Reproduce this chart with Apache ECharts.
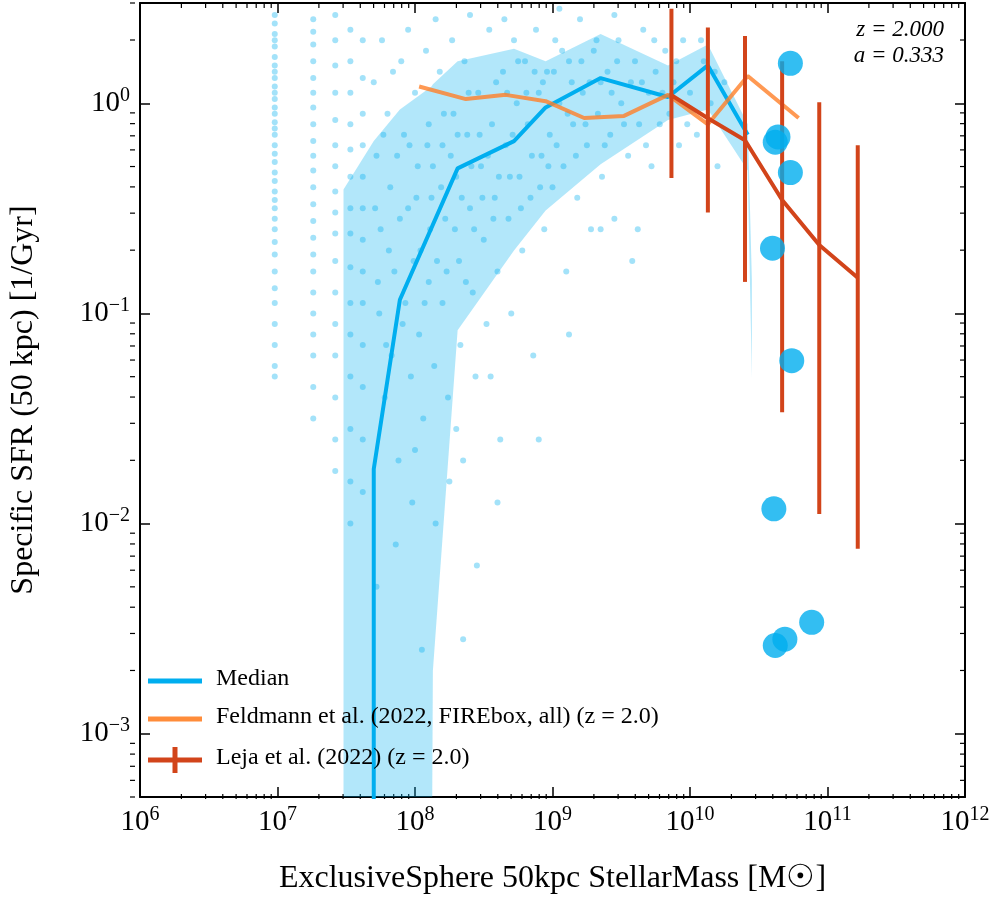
<!DOCTYPE html>
<html><head><meta charset="utf-8">
<script src="https://cdn.jsdelivr.net/npm/echarts@6/dist/echarts.min.js"></script>
<style>html,body{margin:0;background:#fff}#c{width:996px;height:900px}</style>
</head><body><div id="c"></div>
<script>
// All values in log10 units (x: log10 stellar mass, y: log10 sSFR)
const stripeX = [6.98, 7.26, 7.42, 7.53, 7.62];
const stripeY = [
 [0.42,0.38,0.33,0.30,0.27,0.22,0.18,0.15,0.12,0.08,0.05,0.02,-0.02,-0.05,-0.09,-0.12,-0.15,-0.2,-0.24,-0.28,-0.33,-0.37,-0.42,-0.46,-0.5,-0.55,-0.6,-0.66,-0.72,-0.8,-0.88,-0.95,-1.05,-1.15,-1.25,-1.3],
 [0.4,0.34,0.28,0.2,0.12,0.05,-0.02,-0.1,-0.18,-0.25,-0.32,-0.4,-0.48,-0.56,-0.64,-0.72,-0.8,-0.9,-1.0,-1.1,-1.2,-1.35,-1.5],
 [0.42,0.3,0.18,0.05,-0.08,-0.2,-0.3,-0.42,-0.52,-0.62,-0.75,-0.9,-1.05,-1.2,-1.4,-1.6,-1.75],
 [0.35,0.2,0.05,-0.1,-0.22,-0.35,-0.5,-0.62,-0.78,-0.95,-1.1,-1.3,-1.55,-1.8,-2.0],
 [0.3,0.12,-0.05,-0.2,-0.35,-0.5,-0.65,-0.8,-0.95,-1.15,-1.35,-1.6,-1.85]
];
const cloud = [
 [7.7,0.1],[7.72,-0.25],[7.75,-0.6],[7.74,-1.0],[7.78,-1.4],[7.8,-0.05],[7.82,-0.4],[7.85,-0.8],[7.83,-1.2],[7.88,-1.7],
 [7.9,0.2],[7.92,-0.15],[7.95,-0.5],[7.93,-0.95],[7.97,-1.3],[7.98,-1.9],[8.0,0.05],[8.02,-0.3],[8.04,-0.7],[8.03,-1.1],
 [8.06,-1.5],[8.08,0.25],[8.1,-0.1],[8.12,-0.45],[8.1,-0.85],[8.14,-1.25],[8.15,-2.0],[8.18,0.15],[8.2,-0.2],[8.22,-0.55],
 [8.2,-0.95],[8.24,-1.4],[8.27,0.3],[8.28,-0.05],[8.3,-0.35],[8.32,-0.75],[8.33,-1.15],[8.35,-2.55],[8.36,0.2],[8.38,-0.15],
 [8.4,-0.5],[8.42,-0.9],[8.44,-1.3],[8.46,0.05],[8.48,-0.3],[8.5,-0.65],[8.52,-1.05],[8.54,0.35],[8.56,-0.1],[8.58,-0.45],
 [8.6,-0.8],[8.62,-1.6],[8.64,0.15],[8.66,-0.2],[8.68,-0.55],[8.7,-1.0],[8.72,0.3],[8.74,0.0],[8.76,-0.35],[8.78,-0.7],
 [8.8,0.2],[8.82,-0.1],[8.84,-0.45],[8.86,-1.2],[8.88,0.35],[8.9,0.05],[8.92,-0.25],[8.94,-0.6],[8.96,0.15],[8.98,-0.15],
 [9.0,-0.4],[9.02,0.3],[9.05,0.0],[9.08,-0.3],[9.1,-0.8],[9.12,0.2],[9.15,-0.1],[9.18,-0.45],[9.2,0.4],[9.22,0.05],
 [9.25,-0.2],[9.28,-0.6],[9.3,0.25],[9.33,-0.05],[9.36,-0.35],[9.4,0.15],[9.42,-0.15],[9.45,-0.55],[9.48,0.3],[9.5,0.0],
 [9.55,-0.25],[9.58,-0.75],[9.6,0.2],[9.63,-0.1],[9.66,0.35],[9.7,0.05],[9.72,-0.3],[9.75,0.15],[9.78,-0.1],[9.82,0.25],
 [9.85,-0.05],[9.88,0.1],[9.92,-0.2],[9.95,0.3],[10.0,0.05],[10.05,-0.15],[10.1,0.2],[10.15,0.0],[10.2,-0.3],[10.25,0.1],
 [7.72,-2.3],[7.86,-2.1],[8.05,-2.6],[8.25,-1.8],[8.55,-1.3],[8.45,-2.2],[9.12,-1.1],[9.35,-0.6],[8.9,-1.6],[9.62,-0.6],
 [7.95,0.35],[8.15,0.4],[8.4,0.42],[8.65,0.4],[9.05,0.45],[9.45,0.42],[7.76,0.3],[7.84,0.15],[8.35,-1.7],[8.6,-1.9],
 [7.71,-0.5],[7.73,-0.85],[7.77,-0.15],[7.79,-1.15],[7.81,-0.7],[7.87,-0.25],[7.89,-0.55],[7.91,-1.05],[7.96,-0.2],[7.99,-0.75],
 [8.01,-0.45],[8.07,-0.95],[8.09,-0.2],[8.11,-0.6],[8.13,-0.3],[8.16,-0.75],[8.19,-0.4],[8.21,-0.05],[8.23,-0.8],[8.26,-0.25],
 [8.29,-0.6],[8.31,-0.15],[8.34,-0.45],[8.37,-0.85],[8.39,0.05],[8.41,-0.3],[8.43,-0.6],[8.47,-0.15],[8.49,-0.45],[8.53,-0.25],
 [8.57,-0.55],[8.59,0.1],[8.61,-0.35],[8.67,0.05],[8.69,-0.35],[8.71,-0.15],[8.75,0.2],[8.77,-0.5],[8.81,0.05],[8.85,-0.25],
 [8.87,0.15],[8.91,-0.4],[8.93,0.1],[8.97,-0.3],[9.01,0.15],[9.03,-0.2],[9.07,0.25],[9.11,-0.05],[9.14,0.1],[9.17,-0.25],
 [9.21,0.2],[9.24,-0.1],[9.27,0.1],[9.32,0.3],[9.35,0.1],[9.38,-0.2],[9.43,0.05],[9.47,0.2],[9.52,-0.1],[9.57,0.1],
 [9.65,0.1],[9.68,-0.2],[9.74,0.3],[9.8,0.05],[9.9,0.2],[9.98,-0.1],[10.08,0.3],[10.18,0.15],[8.0,-1.65],[8.3,-1.55]
];
const medX = [7.70, 7.70, 7.89, 8.31, 8.72, 8.95, 9.35, 9.84, 10.13, 10.42];
const medY = [-3.6, -1.74, -0.935, -0.31, -0.18, -0.02, 0.12, 0.03, 0.18, -0.15];
const bandX  = [7.48, 7.70, 7.89, 8.12, 8.13, 8.31, 8.72, 8.95, 9.35, 9.84, 10.13, 10.42, 10.45];
const bandLo = [-4, -4, -4, -4, -2.7, -1.08, -0.70, -0.51, -0.29, -0.08, -0.03, -0.32, -1.31];
const bandHi = [-0.41, -0.18, -0.03, 0.08, 0.09, 0.20, 0.26, 0.20, 0.33, 0.18, 0.28, -0.10, -0.84];
const feldX = [8.03, 8.37, 8.66, 8.95, 9.23, 9.52, 9.84, 10.13, 10.42, 10.79];
const feldY = [0.08, 0.02, 0.04, 0.01, -0.07, -0.06, 0.04, -0.10, 0.13, -0.07];
const lejaX  = [9.865, 10.13, 10.40, 10.67, 10.94, 11.22];
const lejaY  = [0.038, -0.071, -0.176, -0.46, -0.674, -0.83];
const lejaHi = [0.45, 0.36, 0.32, 0.20, 0.005, -0.20];
const lejaLo = [-0.356, -0.52, -0.85, -1.47, -1.955, -2.12];
const bigX = [10.73, 10.62, 10.64, 10.73, 10.60, 10.74, 10.61, 10.885, 10.69, 10.62];
const bigY = [0.19, -0.185, -0.16, -0.33, -0.69, -1.225, -1.93, -2.47, -2.55, -2.58];
const yTicks = [-3,-2,-1,0];

const P = v => Math.pow(10, v);
const BLUE = '#00aeef', ORANGE = 'rgba(255,128,40,0.8)', RED = '#d2441a';
const FONT = 'Liberation Serif';

const scatterData = [];
stripeX.forEach((x,i)=>stripeY[i].forEach(y=>scatterData.push([P(x),P(y)])));
cloud.forEach(p=>scatterData.push([P(p[0]),P(p[1])]));

function fmt(v){const e=Math.round(Math.log10(v));return '{b|10}{s|'+String(e).split('').map(c=>c==='-'?'−':c).join('')+'}';}
const rich = {b:{fontFamily:FONT,fontSize:29,color:'#000'},s:{fontFamily:FONT,fontSize:20,color:'#000',verticalAlign:'bottom',padding:[0,0,15,0]}};

const chart = echarts.init(document.getElementById('c'));
const axLine = {show:true,lineStyle:{color:'#000',width:2}};
const tick = {show:true,inside:true,length:10,lineStyle:{color:'#000',width:1.5}};
chart.setOption({
 animation:false,
 grid:{left:130,right:31,top:3,bottom:101},
 xAxis:[
  {type:'log',min:1e6,max:1e12,logBase:10,axisLine:axLine,axisTick:tick,splitLine:{show:false},
   axisLabel:{formatter:fmt,rich:rich,margin:8},
   name:'ExclusiveSphere 50kpc StellarMass [M☉]',nameLocation:'middle',nameGap:66,
   nameTextStyle:{fontFamily:FONT,fontSize:32,color:'#000'}},
  {type:'log',min:1e6,max:1e12,position:'top',axisLine:axLine,axisTick:tick,axisLabel:{show:false},splitLine:{show:false}}
 ],
 yAxis:[
  {type:'log',min:5e-4,max:3,logBase:10,axisLine:axLine,splitLine:{show:false},
   axisLabel:{formatter:fmt,rich:rich,margin:10,customValues:yTicks.map(P)},
   axisTick:Object.assign({customValues:yTicks.map(P)},tick),
   name:'Specific SFR (50 kpc) [1/Gyr]',nameLocation:'middle',nameGap:100,
   nameTextStyle:{fontFamily:FONT,fontSize:32,color:'#000'}},
  {type:'log',min:5e-4,max:3,position:'right',axisLine:axLine,
   axisTick:Object.assign({customValues:yTicks.map(P)},tick),axisLabel:{show:false},splitLine:{show:false}}
 ],
 series:[
  {type:'custom',renderItem:(params,api)=>{
     const pts=[];
     bandX.forEach((x,i)=>pts.push(api.coord([P(x),P(bandHi[i])])));
     for(let i=bandX.length-1;i>=0;i--)pts.push(api.coord([P(bandX[i]),P(bandLo[i])]));
     return {type:'polygon',shape:{points:pts},style:{fill:'rgba(0,174,239,0.3)'}};
   },clip:true,data:[0],z:1},
  {type:'scatter',data:scatterData,symbolSize:6,itemStyle:{color:'rgba(0,174,239,0.45)'},z:2},
  {type:'line',data:medX.map((x,i)=>[P(x),P(medY[i])]),showSymbol:false,lineStyle:{color:BLUE,width:4},z:3},
  {type:'line',data:feldX.map((x,i)=>[P(x),P(feldY[i])]),showSymbol:false,lineStyle:{color:ORANGE,width:4},z:4},
  {type:'line',data:lejaX.map((x,i)=>[P(x),P(lejaY[i])]),showSymbol:false,lineStyle:{color:RED,width:4},z:5},
  {type:'custom',renderItem:(params,api)=>{
     const i=params.dataIndex;
     const a=api.coord([P(lejaX[i]),P(lejaHi[i])]), b=api.coord([P(lejaX[i]),P(lejaLo[i])]);
     return {type:'line',shape:{x1:a[0],y1:a[1],x2:b[0],y2:b[1]},style:{stroke:RED,lineWidth:4}};
   },data:lejaX.map((x,i)=>[P(x),P(lejaY[i])]),z:5},
  {type:'scatter',data:bigX.map((x,i)=>[P(x),P(bigY[i])]),symbolSize:25,itemStyle:{color:BLUE},z:6}
 ],
 graphic:[
  {type:'text',right:52,top:18,style:{text:'z = 2.000',font:'italic 23px "Liberation Serif"',fill:'#000'}},
  {type:'text',right:52,top:44,style:{text:'a = 0.333',font:'italic 23px "Liberation Serif"',fill:'#000'}},
  {type:'line',shape:{x1:148,y1:681,x2:202,y2:681},style:{stroke:BLUE,lineWidth:5},z:10},
  {type:'text',left:216,top:667,style:{text:'Median',font:'24px "Liberation Serif"',fill:'#000'},z:10},
  {type:'line',shape:{x1:148,y1:719,x2:202,y2:719},style:{stroke:'#ff8c3a',lineWidth:5},z:10},
  {type:'text',left:216,top:705,style:{text:'Feldmann et al. (2022, FIREbox, all) (z = 2.0)',font:'24px "Liberation Serif"',fill:'#000'},z:10},
  {type:'line',shape:{x1:148,y1:760,x2:202,y2:760},style:{stroke:RED,lineWidth:5},z:10},
  {type:'line',shape:{x1:175,y1:747,x2:175,y2:773},style:{stroke:RED,lineWidth:5},z:10},
  {type:'text',left:216,top:746,style:{text:'Leja et al. (2022) (z = 2.0)',font:'24px "Liberation Serif"',fill:'#000'},z:10}
 ]
});
// minor ticks (2..9 x 10^k) on all four sides
(function(){
 const els=[]; const g={x:130,y:3,w:835,h:796};
 for(let k=6;k<12;k++)for(let m=2;m<10;m++){const px=chart.convertToPixel({xAxisIndex:0},m*P(k));
  els.push({type:'line',shape:{x1:px,y1:g.y+g.h,x2:px,y2:g.y+g.h-5},style:{stroke:'#000',lineWidth:1.2}});
  els.push({type:'line',shape:{x1:px,y1:g.y,x2:px,y2:g.y+5},style:{stroke:'#000',lineWidth:1.2}});}
 for(let k=-4;k<1;k++)for(let m=2;m<10;m++){const v=m*P(k);if(v<5e-4||v>3)continue;const py=chart.convertToPixel({yAxisIndex:0},v);
  els.push({type:'line',shape:{x1:g.x,y1:py,x2:g.x+5,y2:py},style:{stroke:'#000',lineWidth:1.2}});
  els.push({type:'line',shape:{x1:g.x+g.w,y1:py,x2:g.x+g.w-5,y2:py},style:{stroke:'#000',lineWidth:1.2}});}
 const opt=chart.getOption(); chart.setOption({graphic:opt.graphic[0].elements.concat(els)});
})();
</script></body></html>
